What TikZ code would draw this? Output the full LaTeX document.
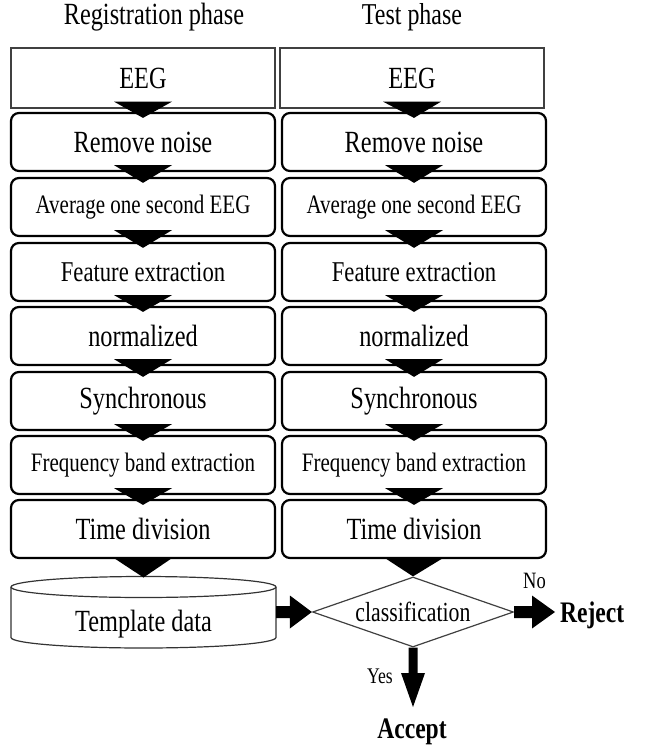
\documentclass[tikz,border=0pt]{standalone}
\usepackage{fontspec}
\setmainfont{Liberation Serif}
\usetikzlibrary{calc,shapes.geometric}
\newcommand{\cnd}[2]{\scalebox{0.79}[1]{\fontsize{#1}{#1}\selectfont #2}}
\newcommand{\darr}[2]{\fill ($(#1.south)+(-29pt,7pt)$) -- ($(#1.south)+(29pt,7pt)$) -- ($(#2.north)+(0pt,-6pt)$) -- cycle;}
\newcommand{\harr}[5]{\fill ($(#1)+(0pt,#4)$) -- ($(#2)+(-#3,#4)$) -- ($(#2)+(-#3,#5)$) -- (#2) -- ($(#2)+(-#3,-#5)$) -- ($(#2)+(-#3,-#4)$) -- ($(#1)+(0pt,-#4)$) -- cycle;}
\newcommand{\varr}[5]{\fill ($(#1)+(-#4,0pt)$) -- ($(#2)+(-#4,#3)$) -- ($(#2)+(-#5,#3)$) -- (#2) -- ($(#2)+(#5,#3)$) -- ($(#2)+(#4,#3)$) -- ($(#1)+(#4,0pt)$) -- cycle;}
\begin{document}
\begin{tikzpicture}[x=1pt,y=-1pt,
  procbox/.style={draw, line width=2.2pt, rounded corners=8pt, minimum width=264pt, minimum height=58pt, inner sep=0pt, fill=white},
  eegbox/.style={draw=black!75, line width=1.3pt, minimum width=264pt, minimum height=60pt, inner sep=0pt, fill=white},
  lbl/.style={inner sep=0pt}]
\useasboundingbox (0,0) rectangle (652,751);

% titles
\node[lbl, anchor=base] (tl) at (154,25) {\cnd{30.8}{Registration phase}};
\node[lbl, anchor=base] (tr) at (412,25) {\cnd{30.3}{Test phase}};

% left column
\node[eegbox] (L0) at (143,78) {\cnd{30.8}{EEG}};
\node[procbox] (L1) at (143,142) {\cnd{30.8}{Remove noise}};
\node[procbox] (L2) at (143,207) {\cnd{26.6}{Average one second EEG}};
\node[procbox] (L3) at (143,272) {\cnd{28.7}{Feature extraction}};
\node[procbox] (L4) at (143,336) {\cnd{30.8}{normalized}};
\node[procbox] (L5) at (143,401) {\cnd{30.8}{Synchronous}};
\node[procbox] (L6) at (143,465) {\cnd{26.6}{Frequency band extraction}};
\node[procbox] (L7) at (143,529) {\cnd{30.8}{Time division}};

% right column
\node[eegbox] (R0) at (412,78) {\cnd{30.8}{EEG}};
\node[procbox] (R1) at (414,142) {\cnd{30.8}{Remove noise}};
\node[procbox] (R2) at (414,207) {\cnd{26.6}{Average one second EEG}};
\node[procbox] (R3) at (414,272) {\cnd{28.7}{Feature extraction}};
\node[procbox] (R4) at (414,336) {\cnd{30.8}{normalized}};
\node[procbox] (R5) at (414,401) {\cnd{30.8}{Synchronous}};
\node[procbox] (R6) at (414,465) {\cnd{26.6}{Frequency band extraction}};
\node[procbox] (R7) at (414,529) {\cnd{30.8}{Time division}};

% cylinder
\filldraw[fill=white, draw=black!80, line width=1.2pt] (11,587) -- (11,637.5) arc[start angle=180, end angle=360, x radius=132.5pt, y radius=10.5pt] -- (276,587);
\draw[draw=black!80, line width=1.2pt, fill=white] (143.5,587) ellipse [x radius=132.5pt, y radius=10.5pt];
\node[minimum width=265pt, minimum height=71pt, inner sep=0pt] (tmpl) at (143.5,612.5) {};
\node[lbl] (tmpltext) at (143.5,624) {\cnd{30.8}{Template data}};
\coordinate (cyltop) at (143.5,577.5);

% diamond
\node[diamond, aspect=2.87, draw=black!75, line width=1.2pt, minimum width=201pt, minimum height=70pt, inner sep=0pt] (cls) at (413,612) {\cnd{27.6}{classification}};

% down arrows
\foreach \a/\b in {L0/L1,L1/L2,L2/L3,L3/L4,L4/L5,L5/L6,L6/L7,R0/R1,R1/R2,R2/R3,R3/R4,R4/R5,R5/R6,R6/R7}{
  \darr{\a}{\b}
}
\fill ($(L7.south)+(-29pt,1pt)$) -- ($(L7.south)+(29pt,1pt)$) -- (cyltop) -- cycle;
\fill ($(R7.south)+(-29pt,1pt)$) -- ($(R7.south)+(29pt,1pt)$) -- (cls.north) -- cycle;

% template -> classification
\coordinate (tmplE) at (tmpl.east |- cls.west);
\harr{tmplE}{cls.west}{22pt}{6pt}{16.5pt}

% reject
\coordinate (rejtip) at (555,612);
\harr{cls.east}{rejtip}{23pt}{6pt}{16.5pt}
\node[lbl, anchor=base west] (rej) at (560,622) {\cnd{29.8}{\bfseries Reject}};
\node[lbl, anchor=base west] (no) at (523,588) {\cnd{23.4}{No}};

% accept
\coordinate (acctip) at (413,707);
\varr{cls.south}{acctip}{34pt}{4.5pt}{12pt}
\node[lbl, anchor=base west] (yes) at (367,683) {\cnd{22.3}{Yes}};
\node[lbl, anchor=base] (acc) at (412,738) {\cnd{29.8}{\bfseries Accept}};
\end{tikzpicture}
\end{document}
